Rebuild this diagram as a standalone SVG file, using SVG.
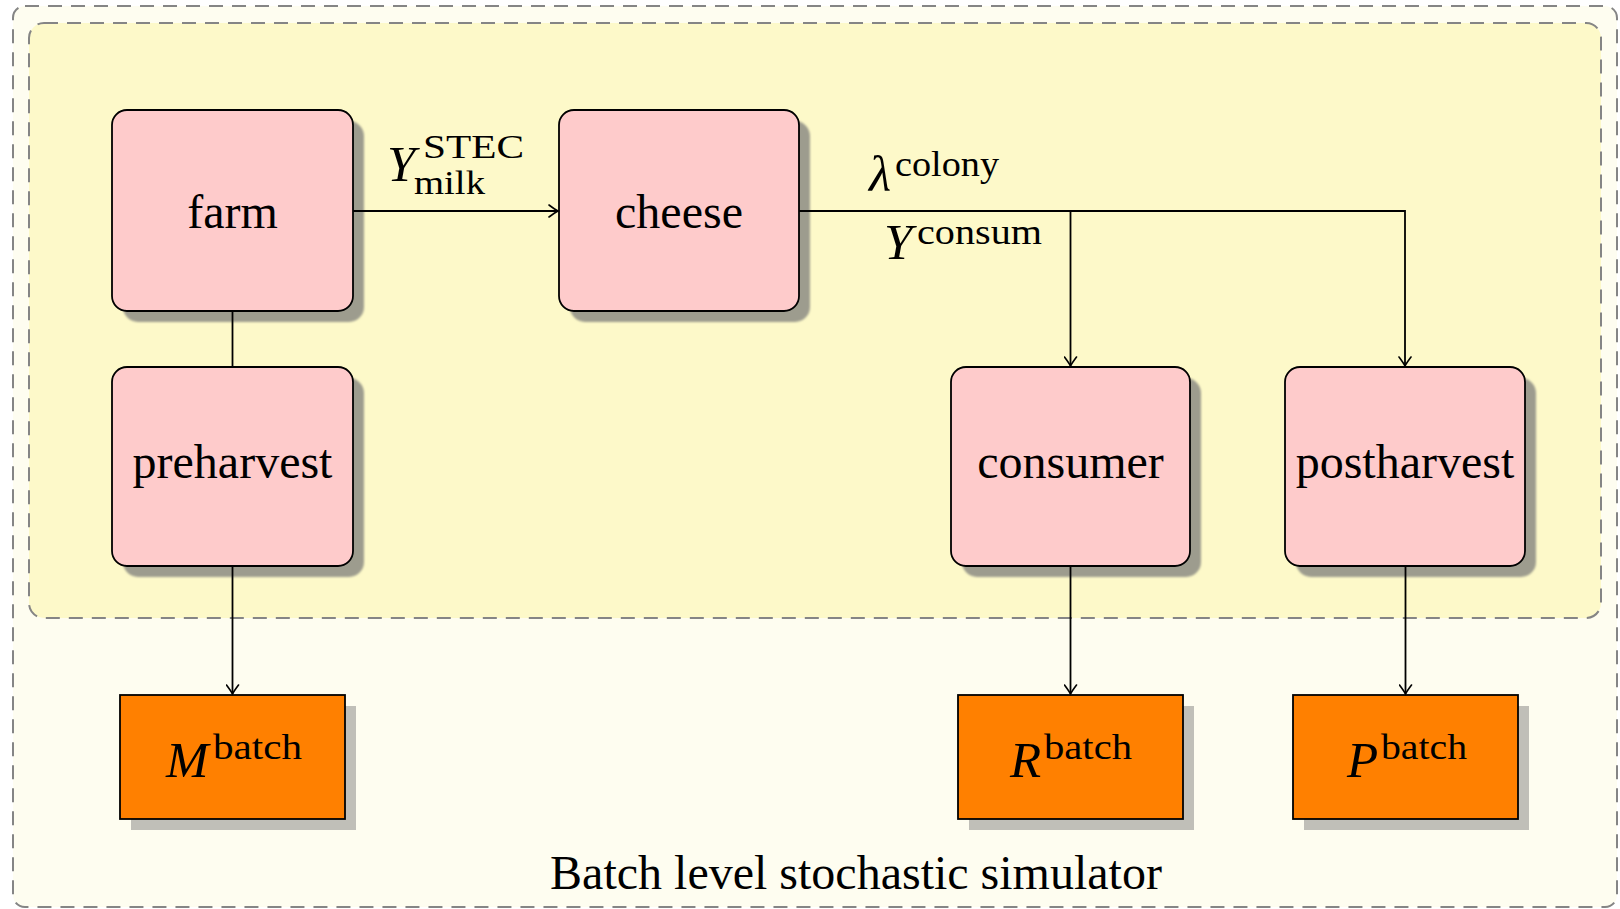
<svg xmlns="http://www.w3.org/2000/svg" width="1620" height="909" viewBox="0 0 1620 909">
  <style>
    .frame-outer { fill: #fefdf0; stroke: #858585; stroke-width: 2; stroke-dasharray: 14 9; }
    .frame-inner { fill: #fdf9c9; stroke: #858585; stroke-width: 2; stroke-dasharray: 14 9; }
    .proc { fill: #fecbcb; stroke: #000; stroke-width: 1.8; }
    .proc-shadow { fill: #9d9c8e; }
    .out { fill: #ff8000; stroke: #000; stroke-width: 1.8; }
    .out-shadow { fill: #c0bfb8; }
    .label { font-family: "Liberation Serif", "Times New Roman", serif; font-size: 48px; fill: #000; text-anchor: middle; }
    .title { font-family: "Liberation Serif", "Times New Roman", serif; font-size: 48px; fill: #000; text-anchor: middle; }
    .mi { font-family: "Liberation Serif", "Times New Roman", serif; font-style: italic; font-size: 51px; fill: #000; }
    .sup { font-family: "Liberation Serif", "Times New Roman", serif; font-size: 35px; fill: #000; }
    .sub2 { font-family: "Liberation Serif", "Times New Roman", serif; font-size: 33px; fill: #000; }
    .wire { fill: none; stroke: #000; stroke-width: 1.8; }
  </style>
  <defs>
    <filter id="soft" x="-10%" y="-10%" width="120%" height="120%">
      <feGaussianBlur stdDeviation="1.2"/>
    </filter>
    <marker id="tip" markerUnits="userSpaceOnUse" markerWidth="14" markerHeight="14" viewBox="-11 -7 13 14" refX="0" refY="0" orient="auto">
      <path d="M -9 -6 Q -3 -1.5 0 0 Q -3 1.5 -9 6" fill="none" stroke="#000" stroke-width="1.6" stroke-linecap="round"/>
    </marker>
  </defs>

  <!-- simulator frames -->
  <g id="simulator">
    <rect class="frame-outer" x="13" y="6" width="1604" height="901" rx="12"/>
    <rect class="frame-inner" x="29" y="23" width="1572" height="595" rx="15"/>
    <text class="title" x="856" y="889">Batch level stochastic simulator</text>
  </g>

  <!-- process nodes -->
  <g id="farm">
    <rect class="proc-shadow" x="123" y="121" width="241" height="201" rx="15" filter="url(#soft)"/>
    <rect class="proc" x="112" y="110" width="241" height="201" rx="15"/>
    <text class="label" x="232.5" y="228">farm</text>
  </g>
  <g id="cheese">
    <rect class="proc-shadow" x="570" y="121" width="240" height="201" rx="15" filter="url(#soft)"/>
    <rect class="proc" x="559" y="110" width="240" height="201" rx="15"/>
    <text class="label" x="679" y="228">cheese</text>
  </g>
  <g id="preharvest">
    <rect class="proc-shadow" x="123" y="378" width="241" height="199" rx="15" filter="url(#soft)"/>
    <rect class="proc" x="112" y="367" width="241" height="199" rx="15"/>
    <text class="label" x="232.5" y="478">preharvest</text>
  </g>
  <g id="consumer">
    <rect class="proc-shadow" x="962" y="378" width="239" height="199" rx="15" filter="url(#soft)"/>
    <rect class="proc" x="951" y="367" width="239" height="199" rx="15"/>
    <text class="label" x="1070.5" y="478">consumer</text>
  </g>
  <g id="postharvest">
    <rect class="proc-shadow" x="1296" y="378" width="240" height="199" rx="15" filter="url(#soft)"/>
    <rect class="proc" x="1285" y="367" width="240" height="199" rx="15"/>
    <text class="label" x="1405" y="478">postharvest</text>
  </g>

  <!-- output nodes -->
  <g id="M-batch">
    <rect class="out-shadow" x="131" y="706" width="225" height="124"/>
    <rect class="out" x="120" y="695" width="225" height="124"/>
    <text class="mi" x="166" y="777">M</text>
    <text class="sup" x="213" y="759" textLength="89" lengthAdjust="spacingAndGlyphs">batch</text>
  </g>
  <g id="R-batch">
    <rect class="out-shadow" x="969" y="706" width="225" height="124"/>
    <rect class="out" x="958" y="695" width="225" height="124"/>
    <text class="mi" x="1010" y="777">R</text>
    <text class="sup" x="1044" y="759" textLength="88" lengthAdjust="spacingAndGlyphs">batch</text>
  </g>
  <g id="P-batch">
    <rect class="out-shadow" x="1304" y="706" width="225" height="124"/>
    <rect class="out" x="1293" y="695" width="225" height="124"/>
    <text class="mi" x="1347" y="777">P</text>
    <text class="sup" x="1381" y="759" textLength="86" lengthAdjust="spacingAndGlyphs">batch</text>
  </g>

  <!-- connectors, drawn over the node shadows -->
  <g id="connectors">
    <line class="wire" x1="353" y1="211" x2="558" y2="211" marker-end="url(#tip)"/>
    <line class="wire" x1="232.5" y1="311" x2="232.5" y2="367"/>
    <polyline class="wire" points="799,211 1405,211 1405,366" marker-end="url(#tip)"/>
    <line class="wire" x1="1070.5" y1="211" x2="1070.5" y2="366" marker-end="url(#tip)"/>
    <line class="wire" x1="232.5" y1="566" x2="232.5" y2="694" marker-end="url(#tip)"/>
    <line class="wire" x1="1070.5" y1="566" x2="1070.5" y2="694" marker-end="url(#tip)"/>
    <line class="wire" x1="1405.5" y1="566" x2="1405.5" y2="694" marker-end="url(#tip)"/>

    <!-- edge labels -->
    <g id="label-milk">
      <text class="mi" x="387" y="181">Y</text>
      <text class="sub2" x="423" y="158" textLength="101" lengthAdjust="spacingAndGlyphs">STEC</text>
      <text class="sub2" x="414" y="194" textLength="71" lengthAdjust="spacingAndGlyphs">milk</text>
    </g>
    <g id="label-colony">
      <text class="mi" x="869" y="191">λ</text>
      <text class="sup" x="895" y="176" textLength="104" lengthAdjust="spacingAndGlyphs">colony</text>
    </g>
    <g id="label-consum">
      <text class="mi" x="884" y="259">Y</text>
      <text class="sup" x="917" y="244" textLength="125" lengthAdjust="spacingAndGlyphs">consum</text>
    </g>
  </g>
</svg>
